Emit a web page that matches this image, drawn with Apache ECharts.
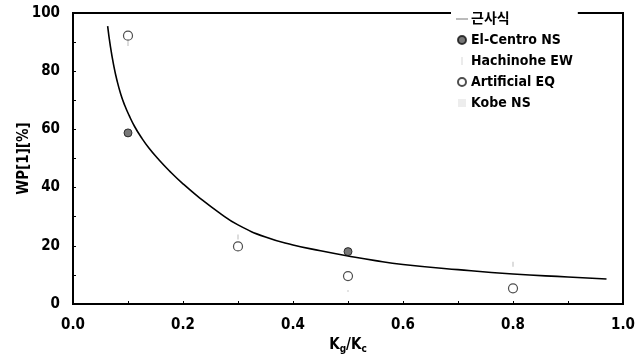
<!DOCTYPE html>
<html><head><meta charset="utf-8">
<script src="https://cdn.jsdelivr.net/npm/echarts@6/dist/echarts.min.js"></script>
<style>html,body{margin:0;padding:0;background:#fff}#c{width:644px;height:359px}</style>
</head><body><div id="c"></div>
<script>
// Fitted curve (근사식)
const curveX = [0.063, 0.068, 0.074, 0.080, 0.087, 0.094, 0.102, 0.112, 0.124, 0.138, 0.155, 0.175, 0.200, 0.230, 0.265, 0.300, 0.350, 0.400, 0.450, 0.500, 0.550, 0.600, 0.700, 0.800, 0.900, 0.970];
const curveY = [95.5, 88.5, 82.0, 76.8, 72.0, 68.3, 64.8, 61.0, 57.3, 53.6, 49.8, 45.8, 41.3, 36.5, 31.5, 27.2, 23.0, 20.3, 18.3, 16.5, 14.9, 13.6, 11.8, 10.3, 9.3, 8.6];
// Scatter series
const elCentroX = [0.1, 0.5];
const elCentroY = [58.8, 18.0];
const hachinoheX = [0.1, 0.3, 0.8];
const hachinoheY = [89.5, 23.0, 13.7];
const artificialX = [0.1, 0.3, 0.5, 0.8];
const artificialY = [92.2, 19.8, 9.6, 5.4];
const kobeX = [0.5];
const kobeY = [4.5];
const seriesNames = ['근사식', 'El-Centro NS', 'Hachinohe EW', 'Artificial EQ', 'Kobe NS'];

const zip = (xs, ys) => xs.map((x, i) => [x, ys[i]]);
const FONT = '"DejaVu Sans Condensed", "Noto Sans CJK KR", sans-serif';

const chart = echarts.init(document.getElementById('c'), null, {renderer: 'canvas'});
chart.setOption({
  animation: false,
  backgroundColor: '#fff',
  grid: {left: 73, right: 21, top: 13, bottom: 54, show: true, borderColor: '#000', borderWidth: 2},
  xAxis: {
    type: 'value', min: 0, max: 1, interval: 0.2,
    axisLine: {show: true, lineStyle: {color: '#000', width: 2}},
    axisTick: {show: true, inside: true, length: 3, lineStyle: {color: '#000'}},
    minorTick: {show: true, splitNumber: 2, length: 3, lineStyle: {color: '#000'}},
    splitLine: {show: false},
    axisLabel: {color: '#000', fontWeight: 'bold', fontSize: 15, fontFamily: FONT, margin: 14,
      formatter: v => v.toFixed(1)},
    name: '{k|K}{s|g}{k|/K}{s|c}', nameLocation: 'middle', nameGap: 32, nameMoveOverlap: false,
    nameTextStyle: {rich: {
      k: {fontSize: 15, fontWeight: 'bold', fontFamily: FONT, color: '#000'},
      s: {fontSize: 10, fontWeight: 'bold', fontFamily: FONT, color: '#000', verticalAlign: 'bottom', padding: [8, 0, 0, 0]}
    }}
  },
  yAxis: {
    type: 'value', min: 0, max: 100, interval: 20,
    axisLine: {show: true, lineStyle: {color: '#000', width: 2}},
    axisTick: {show: true, inside: true, length: 3, lineStyle: {color: '#000'}},
    minorTick: {show: true, splitNumber: 2, length: 3, lineStyle: {color: '#000'}},
    splitLine: {show: false},
    axisLabel: {color: '#000', fontWeight: 'bold', fontSize: 15, fontFamily: FONT, margin: 13},
    name: 'WP[1][%]', nameLocation: 'middle', nameGap: 41, nameMoveOverlap: false,
    nameTextStyle: {color: '#000', fontWeight: 'bold', fontSize: 15, fontFamily: FONT}
  },
  legend: {
    orient: 'vertical', left: 451, top: 7, itemGap: 7, itemWidth: 12, itemHeight: 8,
    backgroundColor: '#fff',
    textStyle: {color: '#000', fontWeight: 'bold', fontSize: 14, fontFamily: FONT, padding: [0, 0, 0, -2]},
    data: [
      {name: seriesNames[0], icon: 'path://M0,5 L12,5 L12,6 L0,6 Z', itemStyle: {color: '#777'}},
      {name: seriesNames[1], icon: 'circle'},
      {name: seriesNames[2], icon: 'path://M5,0 L7,0 L7,10 L5,10 Z', itemStyle: {color: '#e0e0e0'}},
      {name: seriesNames[3], icon: 'circle'},
      {name: seriesNames[4], icon: 'path://M5,4 L7,4 L7,6 L5,6 Z', itemStyle: {color: '#e8e8e8'}}
    ]
  },
  series: [
    {name: seriesNames[0], type: 'line', smooth: 0.5, showSymbol: false, symbol: 'none',
     data: zip(curveX, curveY), lineStyle: {color: '#000', width: 1.6}, itemStyle: {color: '#000'}, z: 2},
    {name: seriesNames[1], type: 'scatter', symbol: 'circle', symbolSize: 8,
     data: zip(elCentroX, elCentroY), itemStyle: {color: '#555', borderColor: '#111', borderWidth: 1}, z: 3},
    {name: seriesNames[2], type: 'scatter', symbol: 'rect', symbolSize: [2, 5],
     data: zip(hachinoheX, hachinoheY), itemStyle: {color: '#d4d4d4'}, z: 3},
    {name: seriesNames[3], type: 'scatter', symbol: 'circle', symbolSize: 9,
     data: zip(artificialX, artificialY), itemStyle: {color: '#fff', borderColor: '#222', borderWidth: 1.2}, z: 4},
    {name: seriesNames[4], type: 'scatter', symbol: 'rect', symbolSize: 2,
     data: zip(kobeX, kobeY), itemStyle: {color: '#ddd'}, z: 3}
  ]
});
</script></body></html>
